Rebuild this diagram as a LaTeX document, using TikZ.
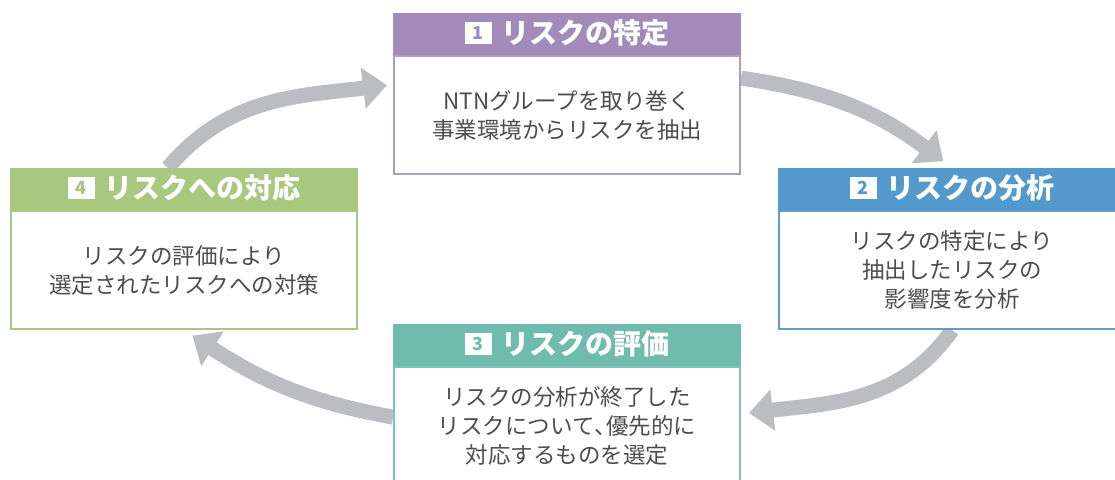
\documentclass[tikz,border=0pt]{standalone}
\usepackage{fontspec}
\newfontfamily\jp{Noto Sans CJK JP}
\usetikzlibrary{positioning,arrows.meta,backgrounds}
\definecolor{riskpurple}{HTML}{A28BB9}
\definecolor{riskblue}{HTML}{5499CB}
\definecolor{riskteal}{HTML}{6FBBAE}
\definecolor{riskgreen}{HTML}{A8C77F}
\definecolor{arrowgray}{HTML}{BCBDC1}
\definecolor{bodygray}{HTML}{4D4D4D}
\newcommand{\halfcomma}{\makebox[0.5em][l]{、}}

\begin{document}
\begin{tikzpicture}
  [x=1pt,y=1pt,
   head/.style={rectangle,minimum width=348pt,minimum height=42pt,inner sep=0pt},
   title/.style={inner sep=0pt,text=white,font=\jp\bfseries\fontsize{28}{28}\selectfont},
   numbox/.style={rectangle,fill=white,minimum width=27pt,minimum height=22pt,inner sep=0pt,
     font=\jp\bfseries\fontsize{18}{18}\selectfont},
   body/.style={rectangle,draw,fill=white,line width=2pt,minimum width=346pt,minimum height=118pt,
     inner sep=0pt,align=center,text=bodygray,font=\jp\fontsize{22.5}{29}\selectfont},
   flow/.style={draw=arrowgray,line width=15pt,-{Triangle[width=40pt,length=24pt]}}]
  \useasboundingbox (0,0) rectangle (1115,479);

  % headers
  \node[head,fill=riskpurple] (h1) at (567,445) {};
  \node[head,fill=riskblue]   (h2) at (952,290) {};
  \node[head,fill=riskteal]   (h3) at (567,134) {};
  \node[head,fill=riskgreen]  (h4) at (184,290) {};

  \node[title] (t1) at ([xshift=18pt,yshift=1pt]h1.center) {リスクの特定};
  \node[title] (t2) at ([xshift=18pt,yshift=1pt]h2.center) {リスクの分析};
  \node[title] (t3) at ([xshift=18pt,yshift=1pt]h3.center) {リスクの評価};
  \node[title] (t4) at ([xshift=18pt,yshift=1pt]h4.center) {リスクへの対応};

  \node[numbox,text=riskpurple,left=9pt of t1] (n1) {1};
  \node[numbox,text=riskblue,left=9pt of t2]   (n2) {2};
  \node[numbox,text=riskteal,left=9pt of t3]   (n3) {3};
  \node[numbox,text=riskgreen,left=9pt of t4]  (n4) {4};

  % bodies
  \node[body,draw=riskpurple!85] (b1) [below=0pt of h1] {NTNグループを取り巻く\\事業環境からリスクを抽出};
  \node[body,draw=riskblue!95]   (b2) [below=0pt of h2] {リスクの特定により\\抽出したリスクの\\影響度を分析};
  \node[body,draw=riskteal!90]   (b3) [below=0pt of h3] {リスクの分析が終了した\\リスクについて\halfcomma 優先的に\\対応するものを選定};
  \node[body,draw=riskgreen]     (b4) [below=0pt of h4] {リスクの評価により\\選定されたリスクへの対策};

  \begin{scope}[on background layer]
    \foreach \from/\to/\o/\i/\s in {b1.12/h2.north/-8/143/11pt, b2.south/b3.4/235/7/8pt,
      b3.177/b4.south/170/-33/10pt, h4.127/b1.170/50/187/6pt}
      \draw[flow,shorten >=\s] (\from) to[out=\o,in=\i] (\to);
  \end{scope}
\end{tikzpicture}
\end{document}
